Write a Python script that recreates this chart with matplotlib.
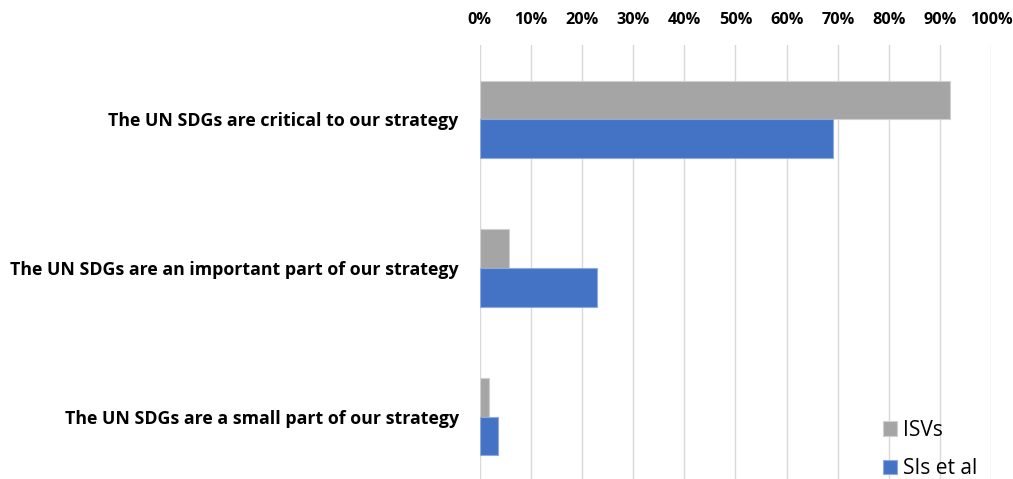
import matplotlib
matplotlib.use("Agg")
import matplotlib.pyplot as plt
import numpy as np

categories = [
    "The UN SDGs are critical to our strategy",
    "The UN SDGs are an important part of our strategy",
    "The UN SDGs are a small part of our strategy",
]
isvs = [92.0, 5.8, 1.9]
sis = [69.1, 23.0, 3.7]
tick_values = [0, 10, 20, 30, 40, 50, 60, 70, 80, 90, 100]
tick_labels = ["0%", "10%", "20%", "30%", "40%", "50%", "60%", "70%", "80%", "90%", "100%"]
series_names = ["ISVs", "SIs et al"]

plt.rcParams['font.family'] = ['Open Sans', 'DejaVu Sans']

W, H = 1013, 479
fig = plt.figure(figsize=(W / 100, H / 100), dpi=100)
left, right, top, bottom = 479.5, 991.3, 45, 491
ax = fig.add_axes([left / W, (H - bottom) / H, (right - left) / W, (bottom - top) / H])

y = np.arange(len(categories))
h = 0.26
ax.barh(y - h / 2, isvs, height=h, color="#A5A5A5", edgecolor="#D0D0D0", linewidth=0.8, label=series_names[0], zorder=3)
ax.barh(y + h / 2, sis, height=h, color="#4472C4", edgecolor="#8FAADC", linewidth=0.8, label=series_names[1], zorder=3)

ax.set_xlim(0, 100)
ax.set_ylim(2.5, -0.5)
ax.set_xticks(tick_values)
ax.set_xticklabels(tick_labels, fontsize=11.7, fontweight="bold")
ax.xaxis.tick_top()
ax.tick_params(axis="x", length=0, pad=12)
ax.set_yticks(y)
ax.set_yticklabels(categories, fontsize=12.75, fontweight="bold")
ax.tick_params(axis="y", length=0, pad=15)
ax.grid(axis="x", color="#D9D9D9", linewidth=1, zorder=0)
for s in ax.spines.values():
    s.set_visible(False)

leg = fig.legend(loc="lower left", bbox_to_anchor=(868 / W, -15 / H), frameon=False,
                 fontsize=15, handlelength=0.68, handleheight=0.68, handletextpad=0.3,
                 labelspacing=0.85, borderaxespad=0.3)

fig.savefig("out.png", dpi=100)
